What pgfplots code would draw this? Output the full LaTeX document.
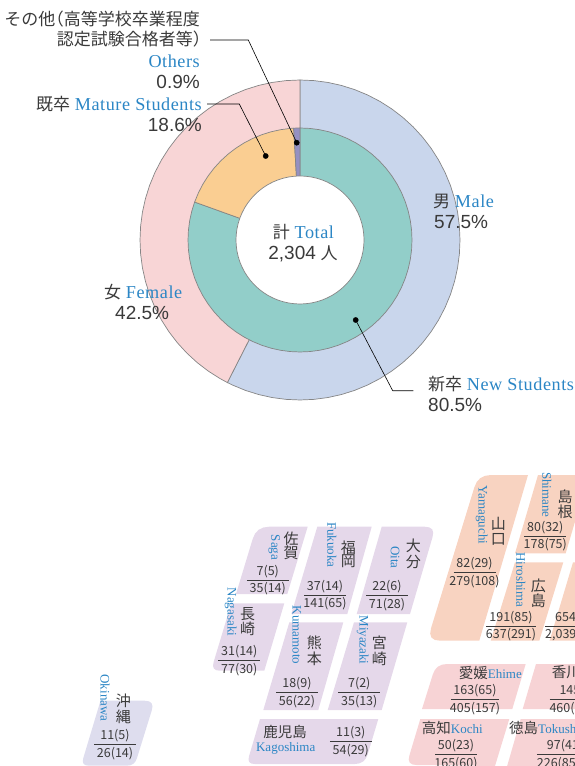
\documentclass[border=0pt]{standalone}
\usepackage{fontspec}
\usepackage{pgfplots}
\pgfplotsset{compat=1.18}
\setmainfont{Liberation Sans}
\newfontfamily\cjk{Noto Sans CJK JP}
\newfontfamily\enf{Liberation Serif}
\newfontfamily\enw[LetterSpace=3]{Liberation Serif}
\definecolor{txt}{HTML}{3A3A3A}
\definecolor{enblue}{HTML}{2B86C5}
\definecolor{ringline}{HTML}{858585}
\definecolor{male}{HTML}{C9D6EC}
\definecolor{female}{HTML}{F8D5D6}
\definecolor{newst}{HTML}{92CEC9}
\definecolor{mature}{HTML}{FACE92}
\definecolor{others}{HTML}{9590C2}
\definecolor{kyushu}{HTML}{E5D8EA}
\definecolor{okin}{HTML}{DEDDEE}
\definecolor{chugoku}{HTML}{F8D3C1}
\definecolor{shikoku}{HTML}{F7D3D5}
% big labels
\newcommand{\jp}[1]{{\cjk\color{txt}#1}}
\newcommand{\en}[1]{{\enf\color{enblue}#1}}
\newcommand{\enb}[1]{{\enw\fontsize{18.2}{20}\selectfont\color{enblue}#1}}
\newcommand{\lbc}[3]{\node[anchor=base,inner sep=0pt,font=\fontsize{17}{18}\selectfont,text=txt] at (axis cs:#1,#2) {#3};}
\newcommand{\lbr}[3]{\node[anchor=base east,inner sep=0pt,font=\fontsize{17}{18}\selectfont,text=txt] at (axis cs:#1,#2) {#3};}
\newcommand{\lbl}[3]{\node[anchor=base west,inner sep=0pt,font=\fontsize{17}{18}\selectfont,text=txt] at (axis cs:#1,#2) {#3};}
\newcommand{\pct}[1]{{\fontsize{19}{20}\selectfont #1}}
% prefecture labels
\newcommand{\vlab}[3]{\node[rotate=-90,inner sep=0pt,font=\fontsize{13}{14}\selectfont] at (axis cs:#1,#2) {\en{#3}};}
\newcommand{\kj}[3]{\node[inner sep=0pt,font=\fontsize{15}{16}\selectfont] at (axis cs:#1,#2) {\jp{#3}};}
\newcommand{\frc}[5]{%
  \node[inner sep=0pt,text=txt] at (axis cs:#1,#2) {\rule{\dimexpr 2pt*#5\relax}{0.7pt}};
  \node[anchor=base,inner sep=0pt,yshift=5pt,font=\fontsize{12.5}{14}\selectfont] at (axis cs:#1,#2) {\jp{#3}};
  \node[anchor=base,inner sep=0pt,yshift=-12.7pt,font=\fontsize{12.5}{14}\selectfont] at (axis cs:#1,#2) {\jp{#4}};}
\newcommand{\frl}[4]{%
  \node[anchor=west,inner sep=0pt,text=txt] at (axis cs:#1,#2) {\rule{60pt}{0.7pt}};
  \node[anchor=base west,inner sep=0pt,xshift=10pt,yshift=5pt,font=\fontsize{12.5}{14}\selectfont] at (axis cs:#1,#2) {\jp{#3}};
  \node[anchor=base west,inner sep=0pt,yshift=-12.7pt,font=\fontsize{12.5}{14}\selectfont] at (axis cs:#1,#2) {\jp{#4}};}
\begin{document}
\begin{tikzpicture}
\path[use as bounding box,clip] (0,0) rectangle (575pt,766pt);
% donut, centre of the axis is the centre of the rings
\begin{axis}[
  name=ring, at={(0,0)}, anchor=south west,
  scale only axis, width=575pt, height=766pt,
  xmin=-300, xmax=275, ymin=-526, ymax=240,
  hide axis, clip=false
]
\addplot[data cs=polar, fill=male, draw=ringline, line width=0.7pt] coordinates {
  (0,0) (90,160) (85,160) (80,160) (75,160) (70,160) (65,160) (60,160) (55,160) (50,160)
  (45,160) (40,160) (35,160) (30,160) (25,160) (20,160) (15,160) (10,160) (5,160) (0,160)
  (-5,160) (-10,160) (-15,160) (-20,160) (-25,160) (-30,160) (-35,160) (-40,160) (-45,160)
  (-50,160) (-55,160) (-60,160) (-65,160) (-70,160) (-75,160) (-80,160) (-85,160) (-90,160)
  (-95,160) (-100,160) (-105,160) (-110,160) (-115,160) (-117,160)} -- cycle;
\addplot[data cs=polar, fill=female, draw=ringline, line width=0.7pt] coordinates {
  (0,0) (-117,160) (-120,160) (-125,160) (-130,160) (-135,160) (-140,160) (-145,160) (-150,160)
  (-155,160) (-160,160) (-165,160) (-170,160) (-175,160) (-180,160) (-185,160) (-190,160)
  (-195,160) (-200,160) (-205,160) (-210,160) (-215,160) (-220,160) (-225,160) (-230,160)
  (-235,160) (-240,160) (-245,160) (-250,160) (-255,160) (-260,160) (-265,160) (-270,160)} -- cycle;
\addplot[data cs=polar, fill=newst, draw=ringline, line width=0.7pt] coordinates {
  (0,0) (90,112) (85,112) (80,112) (75,112) (70,112) (65,112) (60,112) (55,112) (50,112)
  (45,112) (40,112) (35,112) (30,112) (25,112) (20,112) (15,112) (10,112) (5,112) (0,112)
  (-5,112) (-10,112) (-15,112) (-20,112) (-25,112) (-30,112) (-35,112) (-40,112) (-45,112)
  (-50,112) (-55,112) (-60,112) (-65,112) (-70,112) (-75,112) (-80,112) (-85,112) (-90,112)
  (-95,112) (-100,112) (-105,112) (-110,112) (-115,112) (-120,112) (-125,112) (-130,112)
  (-135,112) (-140,112) (-145,112) (-150,112) (-155,112) (-160,112) (-165,112) (-170,112)
  (-175,112) (-180,112) (-185,112) (-190,112) (-195,112) (-199.8,112)} -- cycle;
\addplot[data cs=polar, fill=mature, draw=ringline, line width=0.7pt] coordinates {
  (0,0) (-199.8,112) (-205,112) (-210,112) (-215,112) (-220,112) (-225,112) (-230,112)
  (-235,112) (-240,112) (-245,112) (-250,112) (-255,112) (-260,112) (-265,112) (-266.76,112)} -- cycle;
\addplot[data cs=polar, fill=others, draw=ringline, line width=0.7pt] coordinates {
  (0,0) (-266.76,112) (-268.4,112) (-270,112)} -- cycle;
\addplot[data cs=polar, fill=white, draw=ringline, line width=0.7pt] coordinates {
  (0,64) (5,64) (10,64) (15,64) (20,64) (25,64) (30,64) (35,64) (40,64) (45,64) (50,64) (55,64)
  (60,64) (65,64) (70,64) (75,64) (80,64) (85,64) (90,64) (95,64) (100,64) (105,64) (110,64)
  (115,64) (120,64) (125,64) (130,64) (135,64) (140,64) (145,64) (150,64) (155,64) (160,64)
  (165,64) (170,64) (175,64) (180,64) (185,64) (190,64) (195,64) (200,64) (205,64) (210,64)
  (215,64) (220,64) (225,64) (230,64) (235,64) (240,64) (245,64) (250,64) (255,64) (260,64)
  (265,64) (270,64) (275,64) (280,64) (285,64) (290,64) (295,64) (300,64) (305,64) (310,64)
  (315,64) (320,64) (325,64) (330,64) (335,64) (340,64) (345,64) (350,64) (355,64)} -- cycle;
\end{axis}
% labels and the map, in picture pixels
\begin{axis}[
  at={(0,0)}, anchor=south west,
  scale only axis, width=575pt, height=766pt,
  xmin=0, xmax=575, ymin=0, ymax=766, y dir=reverse,
  hide axis
]
% leaders
\addplot[black,line width=0.6pt] coordinates {(210,40) (248.3,40) (296.7,142.7)};
\addplot[black,line width=0.6pt] coordinates {(207,104) (239.3,104) (265.7,156)};
\addplot[black,line width=0.6pt] coordinates {(355.7,320) (392.7,390.7) (413.3,390.7)};
\addplot[only marks,mark=*,mark size=2.6pt,black] coordinates {(296.7,142.7) (265.7,156) (355.7,320)};
\lbr{200}{25}{\jp{その他\kern-.5em（高等学校卒業程度}}
\lbr{210}{45}{\jp{認定試験合格者等）}}
\lbr{200}{67.3}{\enb{Others}}
\lbr{200}{88}{\pct{0.9\%}}
\lbr{202}{110}{\jp{既卒} \enb{Mature Students}}
\lbr{202}{131}{\pct{18.6\%}}
\lbl{433}{207}{\jp{男} \enb{Male}}
\lbl{434}{228}{\pct{57.5\%}}
\lbl{104}{298}{\jp{女} \enb{Female}}
\lbl{115}{319.3}{\pct{42.5\%}}
\lbl{428}{390}{\jp{新卒} \enb{New Students}}
\lbl{428}{411}{\pct{80.5\%}}
\lbc{303.5}{238}{\jp{計} \enb{Total}}
\lbc{303}{259}{\pct{2,304} \jp{人}}
% Kyushu
\addplot[fill=kyushu,draw=none] coordinates {(252.6,539.2) (255,533.7) (258.6,529.8) (263.4,527.5) (269.3,526.7) (307.7,526.7) (287.3,594) (236,594)};
\addplot[fill=kyushu,draw=none] coordinates {(317.3,526.7) (371.7,526.7) (347.3,614) (291.3,614)};
\addplot[fill=kyushu,draw=none] coordinates {(381.7,526.7) (424.7,526.7) (429.3,527.4) (432.2,529.3) (433.2,532.6) (432.5,537.2) (410,614) (356.7,614)};
\addplot[fill=kyushu,draw=none] coordinates {(231.3,603.3) (284.3,603.3) (264.3,670.7) (220,670.7) (216.2,670.2) (213.9,668.5) (213,665.9) (213.6,662.1)};
\addplot[fill=kyushu,draw=none] coordinates {(289.3,622.3) (343.3,622.3) (318.3,710) (263.3,710)};
\addplot[fill=kyushu,draw=none] coordinates {(354,622.3) (407.3,622.3) (381.7,710) (327.7,710)};
\addplot[fill=kyushu,draw=none] coordinates {(260,719) (378.3,719) (367.7,754.4) (365.8,758.6) (363,761.6) (359.4,763.4) (354.8,764) (254.7,764) (251.3,763.5) (249.3,762.1) (248.5,759.7) (249,756.3)};
\addplot[fill=okin,draw=none] coordinates {(100.5,700.7) (144.7,700.7) (148.9,701.3) (151.5,703.1) (152.5,706.1) (151.8,710.3) (137,758) (135.5,761.4) (133.3,763.8) (130.3,765.2) (126.7,765.7) (89,765.7) (85.6,765.2) (83.6,763.8) (82.8,761.4) (83.3,758)};
% Chugoku
\addplot[fill=chugoku,draw=none] coordinates {(474.3,487.5) (476.7,482) (480.3,478.1) (485.1,475.8) (491,475) (528,475) (479.3,640.7) (440.3,640.7) (434.8,639.9) (431.5,637.6) (430.2,633.7) (431,628.3)};
\addplot[fill=chugoku,draw=none] coordinates {(538,475) (588.7,475) (565.7,553.3) (515,553.3)};
\addplot[fill=chugoku,draw=none] coordinates {(515,562.3) (563.3,562.3) (539.3,640.7) (490.7,640.7)};
\addplot[fill=chugoku,draw=none] coordinates {(573,562.3) (620,562.3) (600,640.7) (549.6,640.7)};
% Shikoku
\addplot[fill=shikoku,draw=none] coordinates {(432.8,674.5) (434.9,669.9) (438,666.6) (442,664.7) (447,664) (525.7,664) (512.3,709) (422,709)};
\addplot[fill=shikoku,draw=none] coordinates {(536,664) (600,664) (586,709) (522.7,709)};
\addplot[fill=shikoku,draw=none] coordinates {(420.3,719) (509.3,719) (495,766) (416.5,765) (412.3,764.4) (409.7,762.6) (408.7,759.6) (409.4,755.4)};
\addplot[fill=shikoku,draw=none] coordinates {(520.7,719) (620,719) (600,770) (506,770)};
% prefecture names
\vlab{274.3}{547.5}{Saga}\kj{291}{538.3}{佐}\kj{291}{553.3}{賀}
\vlab{331.7}{545}{Fukuoka}\kj{348.3}{547.3}{福}\kj{348.3}{561.7}{岡}
\vlab{395}{557.5}{Oita}\kj{413.3}{546}{大}\kj{413.3}{561.7}{分}
\vlab{230.7}{612}{Nagasaki}\kj{247.7}{614.3}{長}\kj{247.7}{629}{崎}
\vlab{296.7}{635}{Kumamoto}\kj{314.3}{642.7}{熊}\kj{314.3}{658.3}{本}
\vlab{362.7}{640}{Miyazaki}\kj{379.3}{642.7}{宮}\kj{379.3}{658.3}{崎}
\node[inner sep=0pt,font=\fontsize{14.5}{16}\selectfont] at (axis cs:285,732.3) {\jp{鹿児島}};
\node[inner sep=0pt,font=\fontsize{13}{14}\selectfont] at (axis cs:285.7,748.3) {\en{Kagoshima}};
\vlab{105}{698}{Okinawa}\kj{123.3}{701}{沖}\kj{123.3}{716.7}{縄}
\vlab{481.7}{515}{Yamaguchi}\kj{498.3}{524}{山}\kj{498.3}{539.3}{口}
\vlab{546.7}{495}{Shimane}\kj{565}{496.7}{島}\kj{565}{511.7}{根}
\vlab{520.7}{580}{Hiroshima}\kj{538.3}{585.7}{広}\kj{538.3}{600.7}{島}
\node[anchor=center,inner sep=0pt,font=\fontsize{13}{14}\selectfont] at (axis cs:490.3,673.3) {{\fontsize{14.5}{16}\selectfont\jp{愛媛}}\en{Ehime}};
\node[anchor=west,inner sep=0pt,font=\fontsize{13}{14}\selectfont] at (axis cs:551.7,673.3) {{\fontsize{14.5}{16}\selectfont\jp{香川}}\en{Kagawa}};
\node[anchor=west,inner sep=0pt,font=\fontsize{13}{14}\selectfont] at (axis cs:421.7,728.3) {{\fontsize{14.5}{16}\selectfont\jp{高知}}\en{Kochi}};
\node[anchor=west,inner sep=0pt,font=\fontsize{13}{14}\selectfont] at (axis cs:509,728.3) {{\fontsize{14.5}{16}\selectfont\jp{徳島}}\en{Tokushima}};
% counts
\frc{267.8}{580}{7(5)}{35(14)}{21}
\frc{325}{595}{37(14)}{141(65)}{21}
\frc{387}{595.7}{22(6)}{71(28)}{21}
\frc{239.3}{660.3}{31(14)}{77(30)}{21}
\frc{297}{692.7}{18(9)}{56(22)}{21}
\frc{359.3}{692.7}{7(2)}{35(13)}{21}
\frc{350.8}{741.3}{11(3)}{54(29)}{21}
\frc{115}{744.3}{11(5)}{26(14)}{21}
\frc{474.5}{572.3}{82(29)}{279(108)}{21}
\frc{545.3}{536}{80(32)}{178(75)}{21}
\frc{511}{626}{191(85)}{637(291)}{25}
\frc{475}{699.3}{163(65)}{405(157)}{24}
\frc{456}{754.3}{50(23)}{165(60)}{21}
\frl{545}{626}{654(307)}{2,039(985)}
\frl{549.3}{699.3}{145(61)}{460(199)}
\frl{536.7}{754.3}{97(41)}{226(85)}
\end{axis}
\end{tikzpicture}
\end{document}
